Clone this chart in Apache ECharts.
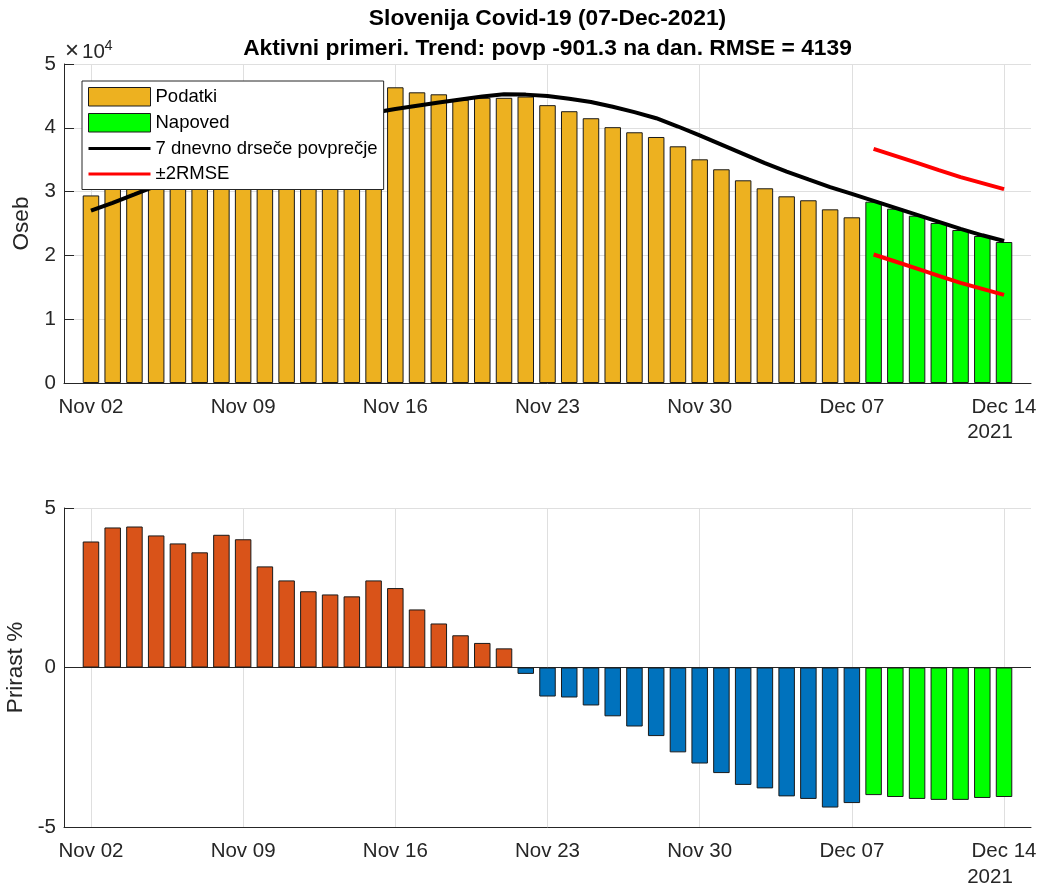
<!DOCTYPE html>
<html>
<head>
<meta charset="utf-8">
<script src="https://cdn.jsdelivr.net/npm/echarts@6/dist/echarts.min.js"></script>
<style>
  html, body { margin: 0; padding: 0; background: #fff; }
  #chart { width: 1042px; height: 890px; }
</style>
</head>
<body>
<div id="chart"></div>
<script>
// ---- Data ----
// Day index 0 = Nov 02 2021, 42 = Dec 14 2021
const tickDays = [0, 7, 14, 21, 28, 35, 42];
const tickLabels = ['Nov 02', 'Nov 09', 'Nov 16', 'Nov 23', 'Nov 30', 'Dec 07', 'Dec 14'];

// Active cases, Nov 02 .. Dec 07
const podatki = [29400, 31200, 32800, 34300, 35700, 37000, 38200, 39300, 40600, 41700,
  42600, 43500, 44300, 45300, 46350, 45560, 45250, 44400, 44700, 44700,
  44900, 43550, 42600, 41500, 40100, 39300, 38560, 37100, 35060, 33500,
  31770, 30520, 29260, 28640, 27220, 25970];
// Forecast, Dec 08 .. Dec 14
const napoved = [28420, 27320, 26220, 25080, 23980, 23040, 22100];
// 7-day moving average / trend, Nov 02 .. Dec 14
const trend = [27000, 28250, 29550, 30900, 32300, 33700, 35050, 36450, 37800, 38950,
  39950, 40850, 41650, 42350, 42950, 43450, 43950, 44450, 44900, 45250,
  45200, 45000, 44550, 44050, 43300, 42450, 41500, 40200, 38800, 37350,
  35900, 34450, 33120, 31900, 30700, 29650, 28550, 27450, 26350, 25250,
  24150, 23150, 22250];
// +/-2RMSE band, Dec 08 .. Dec 14
const rmseUpper = [36700, 35600, 34500, 33360, 32260, 31320, 30380];
const rmseLower = [20140, 19040, 17940, 16800, 15700, 14760, 13820];
// Growth %, Nov 02 .. Dec 07
const prirast = [3.95, 4.39, 4.42, 4.14, 3.89, 3.61, 4.16, 4.02, 3.17, 2.73,
  2.39, 2.29, 2.23, 2.73, 2.49, 1.82, 1.38, 1.01, 0.77, 0.60,
  -0.20, -0.91, -0.94, -1.19, -1.53, -1.85, -2.15, -2.66, -3.01, -3.31,
  -3.68, -3.79, -4.04, -4.12, -4.39, -4.25];
// Growth % forecast, Dec 08 .. Dec 14
const prirastNapoved = [-4.00, -4.06, -4.12, -4.15, -4.15, -4.09, -4.06];

// ---- Chart ----
const FONT = 'Liberation Sans, Arial, Helvetica, sans-serif';
const TXT = '#262626';
const GRIDC = '#dfdfdf';
const nData = podatki.length;

const lineIcon = 'path://M0,0 M62,18.5 M0,7.75 L62,7.75 L62,10.75 L0,10.75 Z';

function xAxisCfg(gi) {
  return {
    type: 'value', gridIndex: gi, min: -1.24, max: 43.24,
    axisLine: { show: true, onZero: false, lineStyle: { color: TXT, width: 1 } },
    axisTick: { show: true, inside: true, length: 10, customValues: tickDays, lineStyle: { color: TXT } },
    axisLabel: {
      customValues: tickDays, fontSize: 20.5, color: TXT, fontFamily: FONT, margin: 14,
      formatter: v => { const k = tickDays.indexOf(Math.round(v)); return k >= 0 ? tickLabels[k] : ''; }
    },
    splitLine: { show: false }
  };
}
function yAxisCfg(gi, min, max, interval, name, nameGap, fmt) {
  return {
    type: 'value', gridIndex: gi, min: min, max: max, interval: interval,
    name: name, nameLocation: 'middle', nameGap: nameGap, nameRotate: 90,
    nameTextStyle: { fontSize: 22.5, color: TXT, fontFamily: FONT },
    axisLine: { show: true, onZero: false, lineStyle: { color: TXT, width: 1 } },
    axisTick: { show: true, inside: true, length: 10, lineStyle: { color: TXT } },
    axisLabel: { fontSize: 20.5, color: TXT, fontFamily: FONT, margin: 8, formatter: fmt },
    splitLine: { show: true, lineStyle: { color: GRIDC, width: 1 } }
  };
}
const mlBase = { symbol: ['none', 'none'], silent: true, animation: false, z: 1, label: { show: false } };
const barBorder = { borderColor: '#1a1a1a', borderWidth: 1 };

const option = {
  animation: false,
  backgroundColor: '#fff',
  title: {
    text: 'Slovenija Covid-19 (07-Dec-2021)\nAktivni primeri. Trend: povp -901.3 na dan. RMSE = 4139',
    left: 547.5, top: 4, textAlign: 'center', padding: 0,
    textStyle: { fontFamily: FONT, fontSize: 22.8, fontWeight: 'bold', color: '#000', lineHeight: 30 }
  },
  grid: [
    { left: 64, top: 64, width: 967, height: 319, containLabel: false, outerBoundsMode: 'none' },
    { left: 64, top: 508, width: 967, height: 319, containLabel: false, outerBoundsMode: 'none' }
  ],
  xAxis: [xAxisCfg(0), xAxisCfg(1)],
  yAxis: [
    yAxisCfg(0, 0, 50000, 10000, 'Oseb', 24, v => String(v / 10000)),
    yAxisCfg(1, -5, 5, 5, 'Prirast %', 32.5, v => String(v))
  ],
  legend: {
    orient: 'vertical', left: 82, top: 81, padding: [6, 6, 6, 6],
    itemWidth: 62, itemHeight: 18.5, itemGap: 6.5,
    backgroundColor: '#fff', borderColor: TXT, borderWidth: 1, borderRadius: 0,
    selectedMode: false, z: 20,
    itemStyle: { borderWidth: 1 },
    textStyle: { fontSize: 18.5, color: '#000', fontFamily: FONT },
    data: [
      { name: 'Podatki', icon: 'rect' },
      { name: 'Napoved', icon: 'rect' },
      { name: '7 dnevno drseče povprečje', icon: lineIcon },
      { name: '±2RMSE', icon: lineIcon }
    ]
  },
  graphic: [
    { type: 'text', z: 30, style: { text: '×', x: 65, y: 51, fontSize: 24, fontFamily: FONT, fill: TXT, align: 'left', verticalAlign: 'middle' } },
    { type: 'text', z: 30, style: { text: '10', x: 82, y: 52, fontSize: 20.5, fontFamily: FONT, fill: TXT, align: 'left', verticalAlign: 'middle' } },
    { type: 'text', z: 30, style: { text: '4', x: 104.5, y: 46.4, fontSize: 14.5, fontFamily: FONT, fill: TXT, align: 'left', verticalAlign: 'middle' } },
    { type: 'text', z: 30, style: { text: '2021', x: 990, y: 432.5, fontSize: 20.5, fontFamily: FONT, fill: TXT, align: 'center', verticalAlign: 'middle' } },
    { type: 'text', z: 30, style: { text: '2021', x: 990, y: 877.5, fontSize: 20.5, fontFamily: FONT, fill: TXT, align: 'center', verticalAlign: 'middle' } }
  ],
  series: [
    // top panel: vertical grid lines
    {
      name: 'grid-top', type: 'line', xAxisIndex: 0, yAxisIndex: 0, data: [], z: 1, silent: true,
      markLine: Object.assign({}, mlBase, { lineStyle: { color: GRIDC, width: 1, type: 'solid' }, data: tickDays.map(d => ({ xAxis: d })) })
    },
    {
      name: 'Podatki', type: 'bar', xAxisIndex: 0, yAxisIndex: 0, barWidth: 16.5, barGap: '-100%', z: 2,
      itemStyle: Object.assign({ color: '#EDB120' }, barBorder),
      data: podatki.map((v, i) => [i, v])
    },
    {
      name: 'Napoved', type: 'bar', xAxisIndex: 0, yAxisIndex: 0, barWidth: 16.5, barGap: '-100%', z: 2,
      itemStyle: Object.assign({ color: '#00FF00' }, barBorder),
      data: napoved.map((v, i) => [nData + i, v])
    },
    {
      name: '7 dnevno drseče povprečje', type: 'line', xAxisIndex: 0, yAxisIndex: 0, z: 5,
      symbol: 'none', color: '#000', lineStyle: { color: '#000', width: 4 },
      data: trend.map((v, i) => [i, v])
    },
    {
      name: '±2RMSE', type: 'line', xAxisIndex: 0, yAxisIndex: 0, z: 5,
      symbol: 'none', color: '#FF0000', lineStyle: { color: '#FF0000', width: 4 },
      data: rmseUpper.map((v, i) => [nData + i, v])
    },
    {
      name: '±2RMSE', type: 'line', xAxisIndex: 0, yAxisIndex: 0, z: 5,
      symbol: 'none', color: '#FF0000', lineStyle: { color: '#FF0000', width: 4 },
      data: rmseLower.map((v, i) => [nData + i, v])
    },
    // bottom panel
    {
      name: 'grid-bottom', type: 'line', xAxisIndex: 1, yAxisIndex: 1, data: [], z: 1, silent: true,
      markLine: Object.assign({}, mlBase, {
        lineStyle: { color: GRIDC, width: 1, type: 'solid' },
        data: tickDays.map(d => ({ xAxis: d })).concat([{ yAxis: 0, lineStyle: { color: TXT, width: 1, type: 'solid' } }])
      })
    },
    {
      name: 'Prirast +', type: 'bar', xAxisIndex: 1, yAxisIndex: 1, barWidth: 16.5, barGap: '-100%', z: 2,
      itemStyle: Object.assign({ color: '#D95319' }, barBorder),
      data: prirast.map((v, i) => [i, v]).filter(p => p[1] >= 0)
    },
    {
      name: 'Prirast -', type: 'bar', xAxisIndex: 1, yAxisIndex: 1, barWidth: 16.5, barGap: '-100%', z: 2,
      itemStyle: Object.assign({ color: '#0072BD' }, barBorder),
      data: prirast.map((v, i) => [i, v]).filter(p => p[1] < 0)
    },
    {
      name: 'Prirast napoved', type: 'bar', xAxisIndex: 1, yAxisIndex: 1, barWidth: 16.5, barGap: '-100%', z: 2,
      itemStyle: Object.assign({ color: '#00FF00' }, barBorder),
      data: prirastNapoved.map((v, i) => [nData + i, v])
    }
  ]
};

const chart = echarts.init(document.getElementById('chart'), null, { renderer: 'canvas' });
chart.setOption(option);
</script>
</body>
</html>
